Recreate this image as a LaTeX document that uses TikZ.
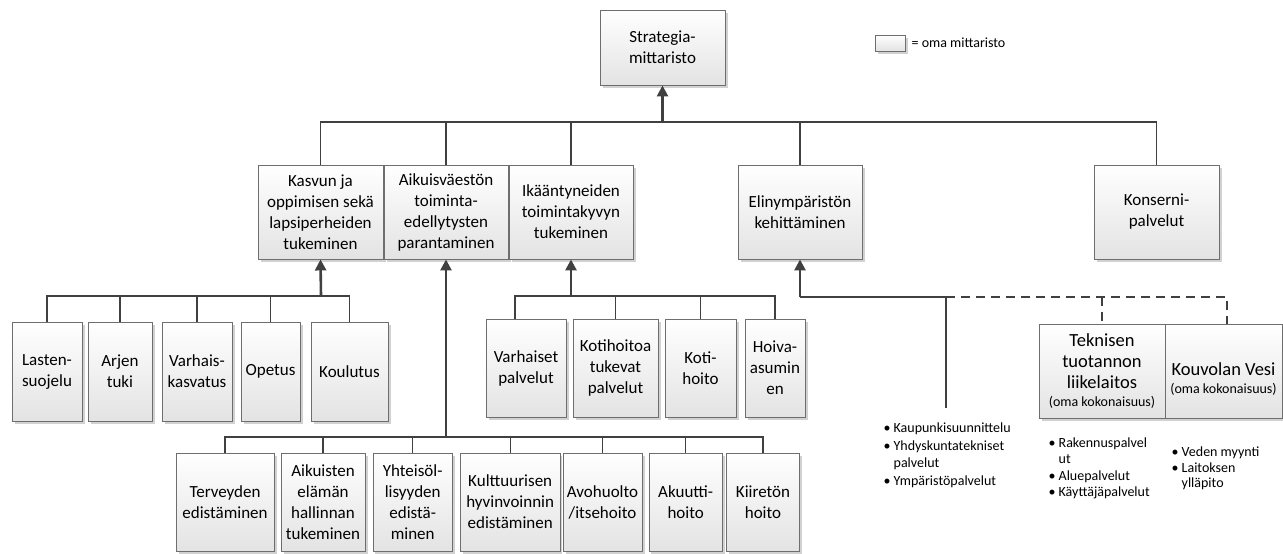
\documentclass[tikz,border=0pt]{standalone}
\usepackage{fontspec}
\setmainfont{Carlito}
\usetikzlibrary{arrows.meta,shadows,calc}
\definecolor{ink}{HTML}{404040}
\definecolor{frame}{HTML}{6E6E6E}
\begin{document}
\begin{tikzpicture}[x=1pt,y=-1pt,
  box/.style={draw=frame, line width=0.9pt, top color=white, bottom color=black!11,
    drop shadow={shadow xshift=2.5pt, shadow yshift=-2.5pt, fill=black, opacity=0.18},
    inner sep=0pt, align=center, font=\fontsize{17}{21}\selectfont},
  branch/.style={draw=ink, line width=1.4pt},
  dashbranch/.style={branch, dash pattern=on 9pt off 6pt},
  arr/.style={draw=ink, line width=2.6pt, -{Triangle[width=11pt,length=11pt]}},
  list/.style={inner sep=0pt, anchor=base west},
  small/.style={font=\fontsize{14}{17}\selectfont}]
\useasboundingbox (0,0) rectangle (1283,554);

% top level
\node[box, minimum width=125pt, minimum height=75pt] (str) at (662.5,47.5) {Strategia-\\mittaristo};

% legend
\node[box, minimum width=30pt, minimum height=16pt] (lg) at (890,43) {};
\node[small, anchor=west, inner sep=0pt] (lgt) at ([xshift=6pt]lg.east) {= oma mittaristo};

% second level
\node[box, minimum width=125pt, minimum height=94pt] (kas) at (320.5,212) {Kasvun ja\\oppimisen sekä\\lapsiperheiden\\tukeminen};
\node[box, minimum width=124pt, minimum height=94pt] (aik) at (446,212) {Aikuisväestön\\toiminta-\\edellytysten\\parantaminen};
\node[box, minimum width=124pt, minimum height=94pt] (ika) at (571,212) {Ikääntyneiden\\toimintakyvyn\\tukeminen};
\node[box, minimum width=124pt, minimum height=94pt] (eli) at (800,212) {Elinympäristön\\kehittäminen};
\node[box, minimum width=125pt, minimum height=94pt] (kon) at (1156.5,212) {Konserni-\\palvelut};

\coordinate (j0) at (662.5,122);
\draw[branch] (kas.north) |- (kon.north |- j0) -- (kon.north);
\foreach \n in {aik,ika,eli} \draw[branch] (\n.north) -- (\n.north |- j0);
\draw[arr] (j0) -- (str.south);

% children of Kasvun
\node[box, minimum width=70pt, minimum height=99pt] (las) at (47,371.5) {Lasten-\\suojelu};
\node[box, minimum width=64pt, minimum height=99pt] (arj) at (120,371.5) {Arjen\\tuki};
\node[box, minimum width=70pt, minimum height=99pt] (vka) at (197,371.5) {Varhais-\\kasvatus};
\node[box, minimum width=59pt, minimum height=99pt] (ope) at (270.5,371.5) {Opetus};
\node[box, minimum width=77pt, minimum height=99pt] (kou) at (349.5,371.5) {Koulutus};

\coordinate (jk) at (321,296);
\draw[branch] (las.north) |- (kou.north |- jk) -- (kou.north);
\foreach \n in {arj,vka,ope} \draw[branch] (\n.north) -- (\n.north |- jk);
\draw[arr] (jk) -- (kas.south);

% children of Ikääntyneiden
\node[box, minimum width=80pt, minimum height=98pt] (vap) at (526,368) {Varhaiset\\palvelut};
\node[box, minimum width=85pt, minimum height=98pt] (ktp) at (615.5,368) {Kotihoitoa\\tukevat\\palvelut};
\node[box, minimum width=71pt, minimum height=98pt] (kot) at (700.5,368) {Koti-\\hoito};
\node[box, minimum width=60pt, minimum height=98pt] (hoi) at (775,368) {Hoiva-\\asumin\\en};

\coordinate (ji) at (571,296);
\coordinate (vapd) at (515,296);
\draw[branch] (vapd |- vap.north) -- (vapd) -- (hoi.north |- vapd) -- (hoi.north);
\foreach \n in {ktp,kot} \draw[branch] (\n.north) -- (\n.north |- ji);
\draw[arr] (ji) -- (ika.south);

% children of Aikuisväestön
\node[box, minimum width=98pt, minimum height=98pt] (ter) at (225,502) {Terveyden\\edistäminen};
\node[box, minimum width=84pt, minimum height=98pt] (aeh) at (323,502) {Aikuisten\\elämän\\hallinnan\\tukeminen};
\node[box, minimum width=79.5pt, minimum height=98pt] (yht) at (412.7,502) {Yhteisöl-\\lisyyden\\edistä-\\minen};
\node[box, minimum width=99.5pt, minimum height=98pt] (kul) at (510.2,502) {Kulttuurisen\\hyvinvoinnin\\edistäminen};
\node[box, minimum width=79pt, minimum height=98pt] (avo) at (602.5,502) {Avohuolto\\/itsehoito};
\node[box, minimum width=73.5pt, minimum height=98pt] (aku) at (685.7,502) {Akuutti-\\hoito};
\node[box, minimum width=73.5pt, minimum height=98pt] (kii) at (763,502) {Kiiretön\\hoito};

\coordinate (ja) at (446,437);
\draw[branch] (ter.north) |- (kii.north |- ja) -- (kii.north);
\foreach \n in {aeh,yht,kul,avo,aku} \draw[branch] (\n.north) -- (\n.north |- ja);
\draw[arr] (ja) -- (aik.south);

% children of Elinympäristön
\node[box, minimum width=126pt, minimum height=94pt, font=\fontsize{18.5}{21}\selectfont] (tek) at (1102,371)
  {Teknisen\\tuotannon\\liikelaitos\\[-3pt]{\fontsize{14}{17}\selectfont (oma kokonaisuus)}};
\node[box, minimum width=117pt, minimum height=94pt] (kv) at (1223.5,371) {};
\node[font=\fontsize{18.5}{21}\selectfont, align=center, inner sep=0pt] (kvt) at (1223.5,379)
  {Kouvolan Vesi\\[-3pt]{\fontsize{14}{17}\selectfont (oma kokonaisuus)}};

\coordinate (je) at (800,297);
\coordinate (jt) at (946,297);
\coordinate (tend) at (946,408);
\draw[branch] (je) -- (jt) -- (tend);
\draw[dashbranch] (jt) -- (1227,297) -- (1227,0 |- kv.north);
\draw[dashbranch] (tek.north |- jt) -- (tek.north);
\draw[arr] (je) -- (eli.south);

% service lists
\node[list, small] (l1) at (883.5,432.5) {\fontsize{14}{17.5}\selectfont
  \begin{tabular}[t]{@{}l@{\hspace{3pt}}l@{}}
  \textbullet & Kaupunkisuunnittelu\\
  \textbullet & Yhdyskuntatekniset\\
   & palvelut\\
  \textbullet & Ympäristöpalvelut
  \end{tabular}};
\node[list, small] (l2) at (1048.5,447.5) {\fontsize{14}{16.3}\selectfont
  \begin{tabular}[t]{@{}l@{\hspace{3pt}}l@{}}
  \textbullet & Rakennuspalvel\\
   & ut\\
  \textbullet & Aluepalvelut\\
  \textbullet & Käyttäjäpalvelut
  \end{tabular}};
\node[list, small] (l3) at (1171.5,456.5) {\fontsize{14}{15.5}\selectfont
  \begin{tabular}[t]{@{}l@{\hspace{3pt}}l@{}}
  \textbullet & Veden myynti\\
  \textbullet & Laitoksen\\
   & ylläpito
  \end{tabular}};
\end{tikzpicture}
\end{document}
